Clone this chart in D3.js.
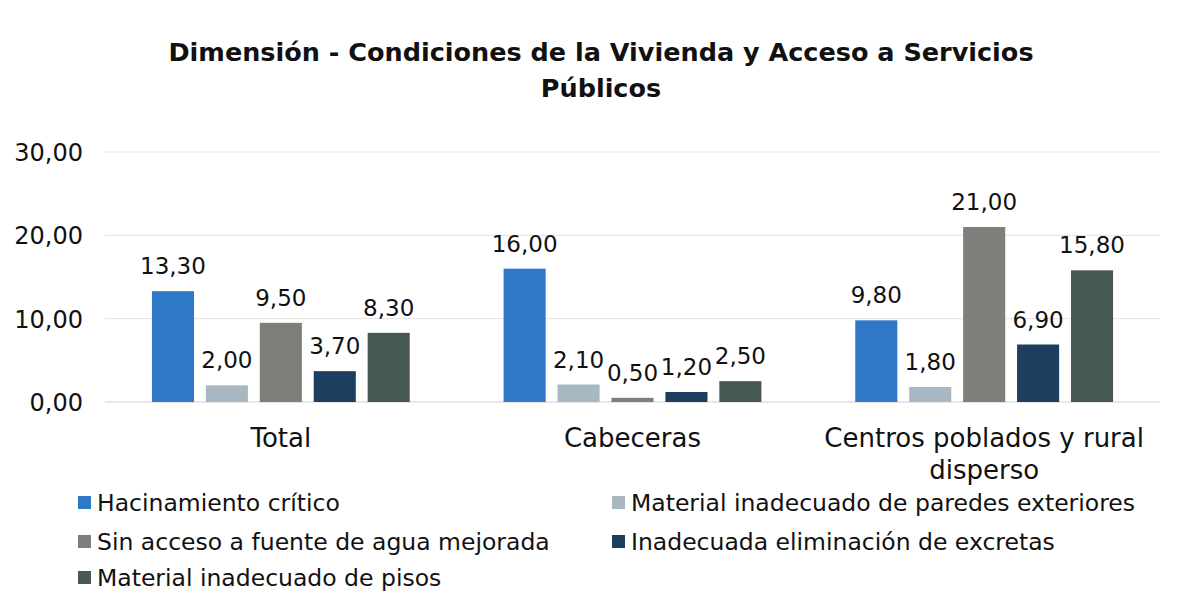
<!DOCTYPE html>
<html>
<head>
<meta charset="utf-8">
<script src="https://cdn.jsdelivr.net/npm/d3@7"></script>
<style>
  body { margin: 0; background: #fff; }
  svg text { font-family: "DejaVu Sans", sans-serif; fill: #111; }
</style>
</head>
<body>
<div class="viz"></div>
<script>
// data
const categories = ["Total", "Cabeceras", "Centros poblados y rural disperso"];
const series = [
  "Hacinamiento crítico",
  "Material inadecuado de paredes exteriores",
  "Sin acceso a fuente de agua mejorada",
  "Inadecuada eliminación de excretas",
  "Material inadecuado de pisos"
];
const hacinamiento = [13.3, 16.0, 9.8];
const paredes = [2.0, 2.1, 1.8];
const agua = [9.5, 0.5, 21.0];
const excretas = [3.7, 1.2, 6.9];
const pisos = [8.3, 2.5, 15.8];
const yTicks = [0, 10, 20, 30];
const colors = ["#2f78c8", "#a8b8c2", "#7e7f7a", "#1d3f5f", "#475a52"];

const values = [hacinamiento, paredes, agua, excretas, pisos];

const W = 1178, H = 593;
const padding = ({ top: 152, bottom: 191, left: 105, right: 18 });

var svg = d3.select(".viz")
  .append("svg")
  .attr("width", W)
  .attr("height", H);

// title
var title = svg.append("text")
  .attr("text-anchor", "middle")
  .attr("font-weight", "bold")
  .attr("font-size", 25.5);
title.append("tspan").attr("x", 601).attr("y", 61)
  .text("Dimensión - Condiciones de la Vivienda y Acceso a Servicios");
title.append("tspan").attr("x", 601).attr("y", 97)
  .text("Públicos");

var yscale = d3.scaleLinear()
  .domain([0, 30])
  .range([H - padding.bottom, padding.top]);

var xscale = d3.scaleBand()
  .domain(categories)
  .range([padding.left, W - padding.right]);

var inner = d3.scaleBand()
  .domain(d3.range(series.length))
  .range([0, xscale.bandwidth()])
  .paddingInner(0.22)
  .paddingOuter(0.87);

// gridlines
svg.append("g")
  .selectAll("line")
  .data(yTicks)
  .enter()
  .append("line")
  .attr("x1", padding.left)
  .attr("x2", W - padding.right)
  .attr("y1", d => yscale(d))
  .attr("y2", d => yscale(d))
  .style("stroke", (d) => d === 0 ? "#cfcfcf" : "#e2e2e2")
  .style("stroke-width", 1);

// y axis labels
var fmt = d => d3.format(".2f")(d).replace(".", ",");
svg.append("g")
  .selectAll("text")
  .data(yTicks)
  .enter()
  .append("text")
  .attr("x", 83)
  .attr("y", d => yscale(d) + 9)
  .attr("text-anchor", "end")
  .attr("font-size", 24)
  .text(fmt);

// bars
var groups = svg.append("g")
  .selectAll("g")
  .data(categories)
  .enter()
  .append("g")
  .attr("transform", d => "translate(" + xscale(d) + ",0)");

groups.selectAll("rect")
  .data((c, ci) => values.map((v, si) => ({ s: si, v: v[ci] })))
  .enter()
  .append("rect")
  .attr("x", d => inner(d.s))
  .attr("width", inner.bandwidth())
  .attr("y", d => yscale(d.v))
  .attr("height", d => yscale(0) - yscale(d.v))
  .attr("fill", d => colors[d.s]);

groups.selectAll("text")
  .data((c, ci) => values.map((v, si) => ({ s: si, v: v[ci] })))
  .enter()
  .append("text")
  .attr("x", d => inner(d.s) + inner.bandwidth() / 2)
  .attr("y", d => yscale(d.v) - 17)
  .attr("text-anchor", "middle")
  .attr("font-size", 23)
  .text(d => fmt(d.v));

// category labels
var catLines = { "Centros poblados y rural disperso": ["Centros poblados y rural", "disperso"] };
svg.append("g")
  .selectAll("text")
  .data(categories)
  .enter()
  .append("text")
  .attr("text-anchor", "middle")
  .attr("font-size", 26)
  .each(function (d) {
    var lines = catLines[d] || [d];
    var t = d3.select(this);
    lines.forEach((l, i) => {
      t.append("tspan")
        .attr("x", xscale(d) + xscale.bandwidth() / 2)
        .attr("y", 447 + i * 32)
        .text(l);
    });
  });

// legend
var legendPos = [[78, 503], [612, 503], [78, 542], [612, 542], [78, 578]];
var legend = svg.append("g").attr("id", "legend");
var items = legend.selectAll("g")
  .data(series)
  .enter()
  .append("g")
  .attr("transform", (d, i) => "translate(" + legendPos[i][0] + "," + legendPos[i][1] + ")");
items.append("rect")
  .attr("x", 0)
  .attr("y", -7)
  .attr("width", 13)
  .attr("height", 13)
  .attr("fill", (d, i) => colors[i]);
items.append("text")
  .attr("x", 19)
  .attr("y", 8)
  .attr("font-size", 23.5)
  .text(d => d);
</script>
</body>
</html>
